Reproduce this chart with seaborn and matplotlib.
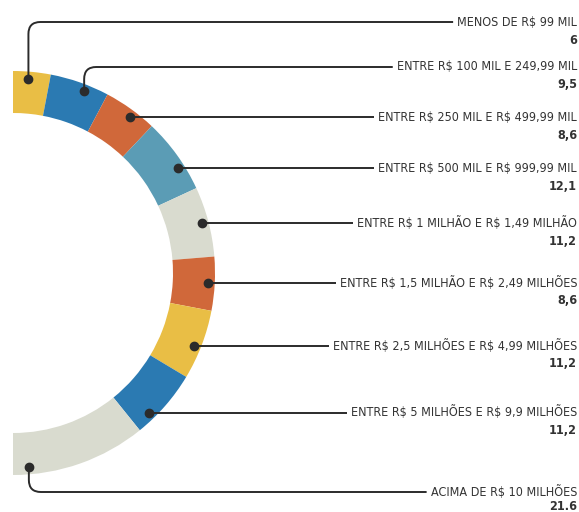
import numpy as np
import seaborn as sns
import matplotlib.pyplot as plt
from matplotlib.path import Path
from matplotlib.patches import PathPatch
from matplotlib import font_manager

# Faixas de patrimonio e participacao (%)
categories = [
    "MENOS DE R$ 99 MIL",
    "ENTRE R$ 100 MIL E 249,99 MIL",
    "ENTRE R$ 250 MIL E R$ 499,99 MIL",
    "ENTRE R$ 500 MIL E R$ 999,99 MIL",
    "ENTRE R$ 1 MILHÃO E R$ 1,49 MILHÃO",
    "ENTRE R$ 1,5 MILHÃO E R$ 2,49 MILHÕES",
    "ENTRE R$ 2,5 MILHÕES E R$ 4,99 MILHÕES",
    "ENTRE R$ 5 MILHÕES E R$ 9,9 MILHÕES",
    "ACIMA DE R$ 10 MILHÕES",
]
values = [6, 9.5, 8.6, 12.1, 11.2, 8.6, 11.2, 11.2, 21.6]
value_labels = ["6", "9,5", "8,6", "12,1", "11,2", "8,6", "11,2", "11,2", "21.6"]

# Estilo
colors = ["#E9BE45", "#2B7AB2", "#D0683A", "#5B9CB5", "#D9DBCF",
          "#D0683A", "#E9BE45", "#2B7AB2", "#D9DBCF"]
dot_frac = [0.42, 0.62, 0.58, 0.65, 0.50, 0.49, 0.55, 0.73, 0.88]
label_y_override = {0: 22, 1: 67, 8: 492}

sns.set_theme(style="white")
plt.rcParams["text.parse_math"] = False
plt.rcParams["font.family"] = ["DejaVu Sans"]


# fonte condensada (DejaVu Sans Condensed), se existir
def find_font(bold):
    for f in font_manager.fontManager.ttflist:
        fn = f.fname
        if ("Condensed" in fn or "Narrow" in fn) and "Oblique" not in fn \
                and "Italic" not in fn and ("Bold" in fn) == bold:
            return fn
    return None


reg_file = find_font(False)
bold_file = find_font(True)
fp = font_manager.FontProperties(fname=reg_file, size=9) if reg_file else \
    font_manager.FontProperties(size=8)
fpb = font_manager.FontProperties(fname=bold_file, size=9) if bold_file else \
    font_manager.FontProperties(size=8, weight="bold")

W, H = 579, 512
fig = plt.figure(figsize=(W / 100, H / 100), dpi=100)
ax = fig.add_axes([0, 0, 1, 1])

cx, cy = 13, 273
r_out, ring = 202, 42
r_dot = 195
ink = "#2b2b2b"

# meia rosca: fatia extra invisivel com a soma dos valores
total = sum(values)
wedges, _ = ax.pie(values + [total], colors=colors + ["none"], center=(cx, cy),
                   radius=r_out, startangle=-90, counterclock=True,
                   wedgeprops=dict(width=ring, linewidth=0))
wedges[-1].set_visible(False)

ax.set_xlim(0, W)
ax.set_ylim(H, 0)
ax.set_aspect("equal")
ax.set_axis_off()

texts = []
dots = []
for i, (w, cat, vl) in enumerate(zip(wedges[:-1], categories, value_labels)):
    ang = np.deg2rad(w.theta1 + dot_frac[i] * (w.theta2 - w.theta1))
    dx, dy = cx + r_dot * np.cos(ang), cy + r_dot * np.sin(ang)
    ly = label_y_override.get(i, dy)
    t = ax.text(577, ly, cat, ha="right", va="center", fontproperties=fp,
                color="#333333")
    off = 14 if i == len(values) - 1 else 18
    ax.text(577, ly + off, vl, ha="right", va="center", fontproperties=fpb,
            color="#333333")
    texts.append(t)
    dots.append((dx, dy, ly))

fig.canvas.draw()
renderer = fig.canvas.get_renderer()
inv = ax.transData.inverted()

for t, (dx, dy, ly) in zip(texts, dots):
    bb = t.get_window_extent(renderer)
    x_end = inv.transform((bb.x0, bb.y0))[0] - 4
    if abs(ly - dy) < 2:
        verts = [(dx, dy), (x_end, dy)]
        codes = [Path.MOVETO, Path.LINETO]
    else:
        rc = 12
        s = np.sign(ly - dy)
        verts = [(dx, dy), (dx, ly - s * rc), (dx, ly), (dx + rc, ly), (x_end, ly)]
        codes = [Path.MOVETO, Path.LINETO, Path.CURVE3, Path.CURVE3, Path.LINETO]
    ax.add_patch(PathPatch(Path(verts, codes), fill=False, edgecolor=ink,
                           linewidth=1.4))
    ax.plot(dx, dy, "o", color=ink, markersize=6)

fig.savefig("out.png", dpi=100)
